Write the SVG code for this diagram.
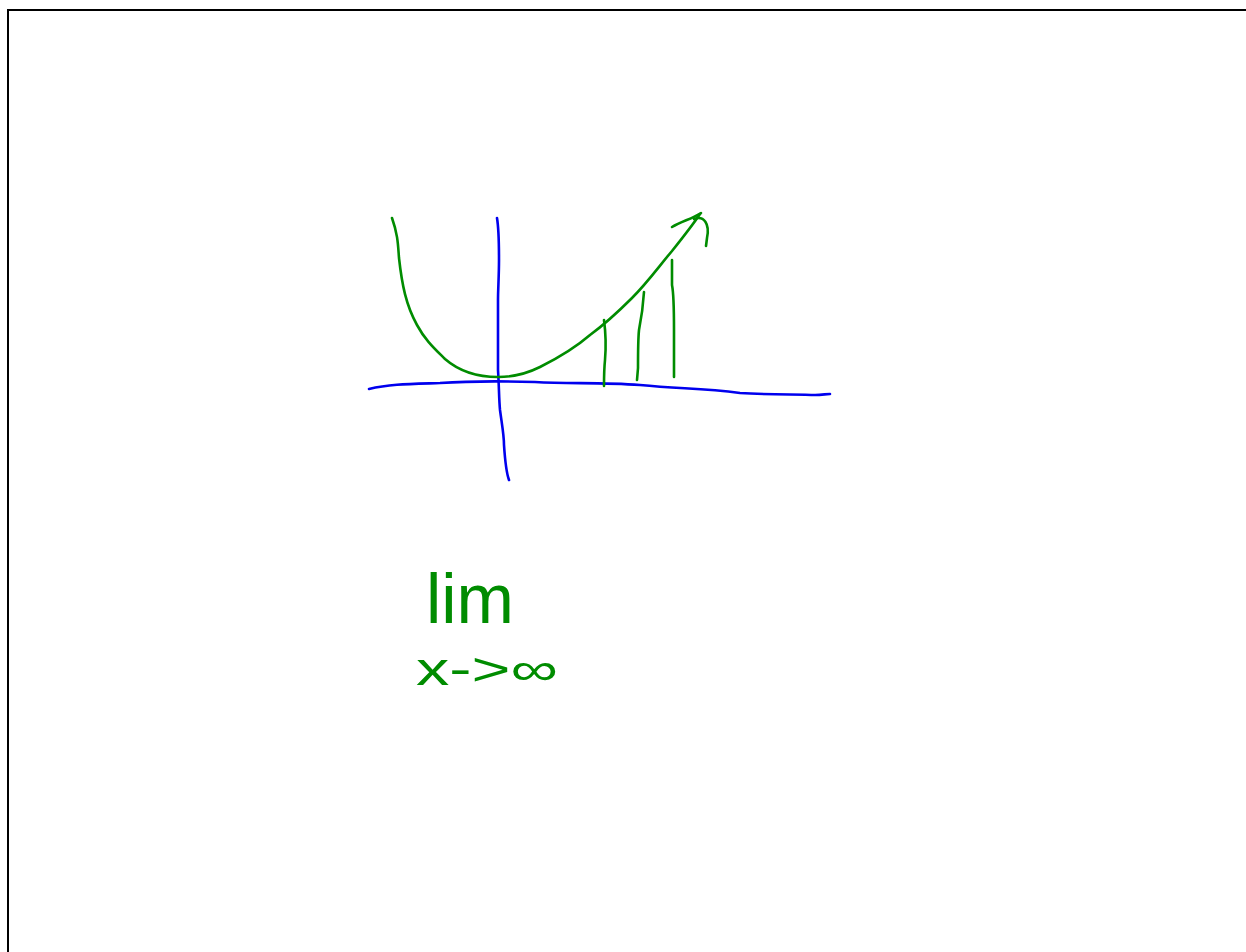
<svg xmlns="http://www.w3.org/2000/svg" width="1246" height="952" viewBox="0 0 1246 952">
<style>
.frame{fill:none;stroke:#000;stroke-width:2}
.blue{fill:none;stroke:#0000ee;stroke-width:2.6;stroke-linecap:round;stroke-linejoin:round}
.green{fill:none;stroke:#008c00;stroke-width:2.6;stroke-linecap:round;stroke-linejoin:round}
.hand{fill:#008c00;font-family:"Liberation Sans",Arial,sans-serif}
</style>
<rect width="1246" height="952" fill="#fff"/>
<path class="frame" d="M8,952 V10 H1246"/>
<g id="connectors">
<path id="x-axis" class="blue" d="M369,389 C390,384 410,384 440,383 C470,381 500,381 535,382 C570,384 600,382 640,385 C680,389 700,388 740,393 C770,395 800,394 815,395 C822,395 826,394 830,394"/>
<path id="y-axis" class="blue" d="M497,218 C499,230 499,245 499,260 C499,275 498,290 498,300 L498,370 C499,385 499,400 500,410 C502,425 504,435 504,445 C505,460 506,472 509,480"/>
</g>
<g id="parabola">
<path class="green" d="M392,218 C398,235 398,245 399,258 C402,285 406,305 417,325 C425,340 435,349 445,359 C460,372 480,377 498,377 C515,377 530,372 540,367 C560,357 575,348 590,335 C605,324 615,315 632,298 C648,282 660,265 672,251 C684,236 692,226 700,214"/>
<path class="green" d="M672,227 C682,221 692,219 701,213"/>
<path class="green" d="M694,219 C704,215 710,224 707,238 L706,246"/>
</g>
<g id="bars">
<path class="green" d="M604,320 C606,335 606,348 605,360 C604,370 604,378 604,386"/>
<path class="green" d="M644,292 C643,308 641,320 639,330 C638,340 638,352 638,368 L637,380"/>
<path class="green" d="M672,260 L672,285 C674,295 674,310 674,330 L674,377"/>
</g>
<g id="limit-label">
<text class="hand" x="426" y="623" font-size="70" textLength="88" lengthAdjust="spacingAndGlyphs">lim</text>
<text class="hand" x="416" y="685" font-size="46" textLength="142" lengthAdjust="spacingAndGlyphs">x-&gt;∞</text>
</g>
</svg>
